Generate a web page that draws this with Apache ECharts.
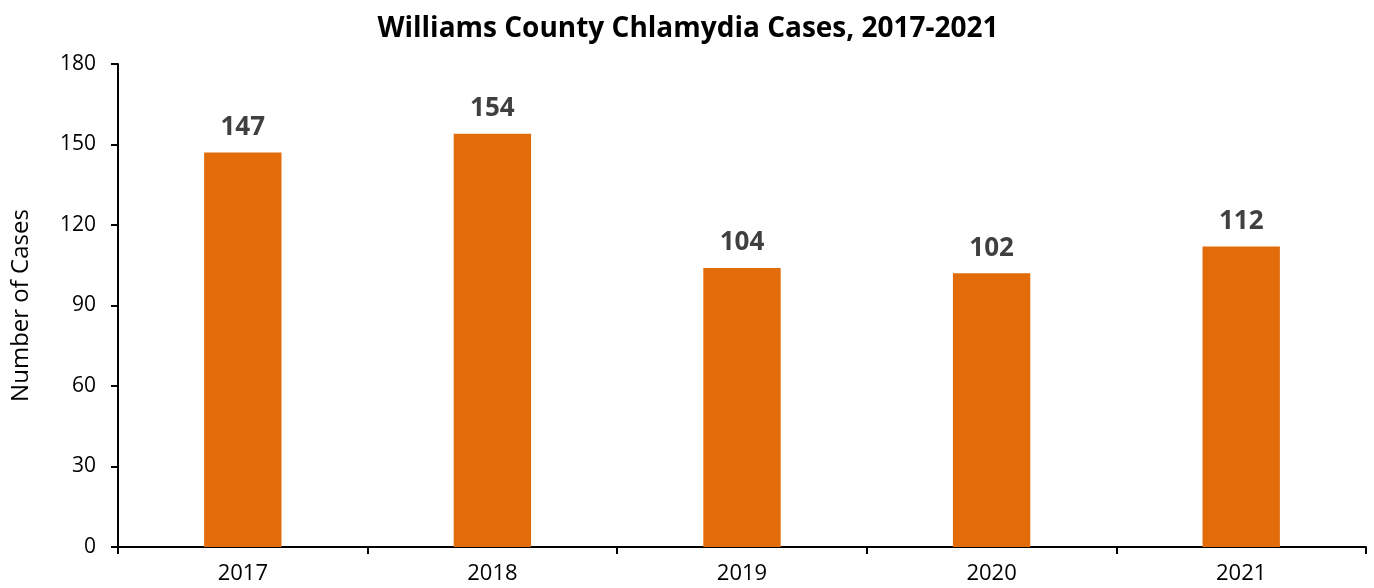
<!DOCTYPE html>
<html><head><meta charset="utf-8">
<script src="https://cdn.jsdelivr.net/npm/echarts@6/dist/echarts.min.js"></script>
<style>html,body{margin:0;padding:0;background:#fff}#c{width:1374px;height:588px}</style>
</head><body><div id="c"></div>
<script>
const categories = ['2017','2018','2019','2020','2021'];
const cases = [147,154,104,102,112];
const yTicks = {min:0,max:180,interval:30};
const font = '"Open Sans","Noto Sans",sans-serif';
const chart = echarts.init(document.getElementById('c'));
chart.setOption({
  animation:false,
  title:{text:'Williams County Chlamydia Cases, 2017-2021',left:683,top:10,textAlign:'center',
    textStyle:{fontFamily:font,fontSize:28,fontWeight:'bold',color:'#000'}},
  grid:{left:118,right:8,top:64,bottom:41},
  xAxis:{type:'category',data:categories,
    axisLine:{lineStyle:{color:'#000',width:2}},
    axisTick:{show:true,alignWithLabel:false,length:7,lineStyle:{color:'#000',width:2}},
    axisLabel:{fontFamily:font,fontSize:22,color:'#000',margin:16}},
  yAxis:{type:'value',min:yTicks.min,max:yTicks.max,interval:yTicks.interval,
    name:'Number of Cases',nameLocation:'middle',nameGap:85,
    nameTextStyle:{fontFamily:font,fontSize:24,color:'#000'},
    axisLine:{show:true,lineStyle:{color:'#000',width:2}},
    axisTick:{show:true,length:7,lineStyle:{color:'#000',width:2}},
    splitLine:{show:false},
    axisLabel:{fontFamily:font,fontSize:21,color:'#000',margin:22}},
  series:[{type:'bar',data:cases,barWidth:'31%',
    itemStyle:{color:'#E36C0A'},
    label:{show:true,position:'top',distance:12,fontFamily:font,fontSize:26,fontWeight:'bold',color:'#404040'}}]
});
</script></body></html>
